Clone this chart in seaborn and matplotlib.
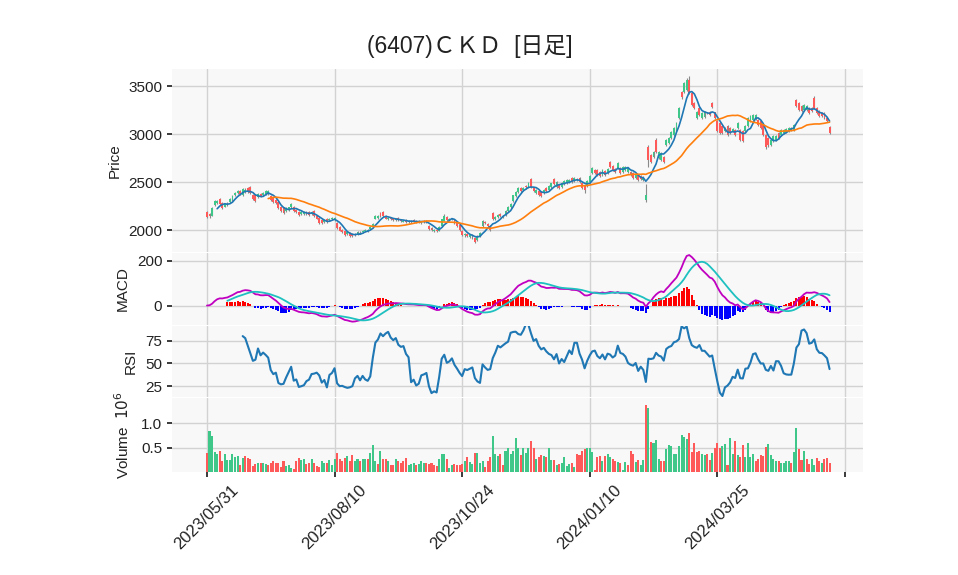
import numpy as np
import pandas as pd
import matplotlib
matplotlib.use("Agg")
import matplotlib.pyplot as plt
import seaborn as sns

# ---------------- data ----------------
title = "(6407)ＣＫＤ  [日足]"
tick_pos = [0, 50, 100, 150, 200, 250]
tick_labels = ["2023/05/31", "2023/08/10", "2023/10/24", "2024/01/10", "2024/03/25", ""]

opens = [2185, 2170, 2150, 2265, 2280, 2325, 2280, 2245, 2265, 2295,
         2315, 2360, 2385, 2405, 2365, 2400, 2435, 2445, 2365, 2360,
         2340, 2380, 2365, 2375, 2375, 2350, 2330, 2310, 2290, 2245,
         2235, 2195, 2210, 2240, 2245, 2210, 2190, 2165, 2170, 2185,
         2185, 2165, 2195, 2150, 2130, 2105, 2080, 2115, 2100, 2110,
         2105, 2075, 2035, 2000, 1985, 1955, 1970, 1960, 1945, 1960,
         1962, 1975, 1990, 1990, 2010, 2035, 2120, 2130, 2180, 2185,
         2150, 2115, 2130, 2115, 2105, 2125, 2110, 2088, 2100, 2080,
         2085, 2105, 2090, 2090, 2075, 2085, 2095, 2040, 2025, 1990,
         2000, 1990, 2040, 2095, 2140, 2100, 2110, 2100, 2070, 2050,
         1990, 1945, 1960, 1930, 1950, 1915, 1900, 1940, 2040, 2085,
         2065, 2040, 2175, 2110, 2135, 2170, 2140, 2160, 2200, 2235,
         2300, 2350, 2400, 2440, 2415, 2455, 2450, 2530, 2440, 2390,
         2410, 2400, 2390, 2435, 2420, 2450, 2530, 2450, 2470, 2450,
         2480, 2490, 2500, 2540, 2515, 2520, 2540, 2490, 2470, 2460,
         2505, 2590, 2630, 2625, 2608, 2573, 2615, 2590, 2712, 2670,
         2640, 2643, 2643, 2608, 2625, 2608, 2608, 2590, 2538, 2573,
         2566, 2520, 2312, 2870, 2780, 2764, 2938, 2747, 2730, 2764,
         2886, 2903, 2956, 2990, 3043, 3165, 3443, 3443, 3460, 3565,
         3425, 3321, 3165, 3270, 3165, 3182, 3217, 3234, 3320, 3225,
         3132, 3115, 3080, 3028, 3080, 3063, 3028, 3045, 3063, 3045,
         3028, 3028, 3080, 3132, 3150, 3160, 3150, 3132, 3097, 2993,
         2958, 2890, 2923, 2940, 3010, 2993, 3010, 3020, 3028, 3040,
         3045, 3358, 3323, 3289, 3254, 3247, 3271, 3271, 3375, 3271,
         3237, 3219, 3219, 3167, 3073]

closes = [2135, 2150, 2225, 2300, 2300, 2270, 2230, 2270, 2275, 2325,
          2350, 2385, 2405, 2375, 2430, 2420, 2395, 2385, 2325, 2305,
          2380, 2350, 2390, 2410, 2405, 2315, 2290, 2280, 2230, 2195,
          2180, 2225, 2235, 2270, 2200, 2190, 2160, 2185, 2190, 2165,
          2160, 2190, 2145, 2120, 2075, 2075, 2100, 2085, 2120, 2125,
          2130, 2025, 1995, 1975, 1950, 1975, 1940, 1935, 1960, 1975,
          1972, 1990, 2005, 2000, 2030, 2060, 2150, 2145, 2150, 2145,
          2120, 2125, 2110, 2105, 2120, 2100, 2098, 2096, 2080, 2090,
          2095, 2098, 2080, 2082, 2088, 2095, 2085, 2010, 2000, 1998,
          1985, 2030, 2110, 2150, 2100, 2115, 2120, 2070, 2040, 2000,
          1945, 1955, 1935, 1945, 1946, 1880, 1935, 1965, 2090, 2070,
          2045, 2005, 2110, 2140, 2160, 2150, 2148, 2200, 2240, 2270,
          2360, 2400, 2435, 2410, 2440, 2445, 2495, 2450, 2405, 2415,
          2360, 2355, 2420, 2405, 2460, 2485, 2475, 2500, 2440, 2495,
          2510, 2520, 2520, 2500, 2540, 2535, 2500, 2440, 2420, 2510,
          2560, 2643, 2590, 2575, 2566, 2625, 2573, 2635, 2660, 2620,
          2608, 2695, 2590, 2660, 2660, 2650, 2573, 2545, 2573, 2520,
          2530, 2555, 2364, 2730, 2712, 2817, 2817, 2817, 2800, 2712,
          2938, 2956, 3025, 3060, 3112, 3269, 3390, 3530, 3565, 3425,
          3304, 3270, 3234, 3200, 3217, 3234, 3225, 3200, 3280, 3165,
          3028, 3010, 3010, 3063, 2993, 3010, 3050, 2993, 3115, 2940,
          2923, 3080, 3167, 3184, 3200, 3195, 3097, 3063, 2993, 2870,
          2890, 2940, 2976, 2976, 2958, 3045, 3045, 3050, 3063, 3060,
          3097, 3289, 3254, 3237, 3306, 3289, 3219, 3237, 3271, 3219,
          3184, 3184, 3167, 3132, 3010]

highs = [2195, 2180, 2235, 2310, 2315, 2330, 2290, 2280, 2290, 2335,
         2360, 2395, 2415, 2420, 2440, 2435, 2445, 2460, 2375, 2365,
         2390, 2390, 2400, 2420, 2415, 2360, 2340, 2320, 2300, 2255,
         2240, 2235, 2245, 2285, 2255, 2220, 2200, 2195, 2200, 2195,
         2195, 2200, 2205, 2160, 2140, 2115, 2110, 2125, 2130, 2135,
         2140, 2085, 2045, 2010, 1995, 1985, 1980, 1970, 1970, 1985,
         1985, 2000, 2015, 2012, 2040, 2070, 2160, 2160, 2190, 2195,
         2160, 2135, 2140, 2125, 2130, 2135, 2120, 2105, 2110, 2100,
         2105, 2115, 2100, 2100, 2098, 2105, 2105, 2050, 2035, 2010,
         2010, 2040, 2120, 2170, 2150, 2125, 2130, 2110, 2080, 2060,
         2000, 1965, 1970, 1955, 1960, 1925, 1945, 1975, 2100, 2095,
         2075, 2050, 2185, 2150, 2170, 2180, 2160, 2210, 2250, 2280,
         2370, 2410, 2445, 2450, 2450, 2465, 2505, 2545, 2450, 2425,
         2420, 2410, 2430, 2445, 2470, 2495, 2545, 2510, 2480, 2505,
         2520, 2530, 2530, 2550, 2550, 2545, 2550, 2500, 2480, 2520,
         2570, 2655, 2640, 2635, 2618, 2635, 2625, 2645, 2722, 2680,
         2650, 2705, 2653, 2670, 2670, 2660, 2618, 2600, 2583, 2583,
         2576, 2565, 2476, 2890, 2790, 2827, 2955, 2827, 2810, 2774,
         2948, 2966, 3035, 3070, 3122, 3279, 3453, 3545, 3580, 3600,
         3435, 3331, 3244, 3280, 3227, 3244, 3235, 3244, 3335, 3235,
         3142, 3125, 3090, 3073, 3090, 3073, 3060, 3055, 3125, 3055,
         3038, 3090, 3177, 3194, 3210, 3205, 3160, 3142, 3107, 3003,
         2968, 2950, 2986, 2986, 3020, 3055, 3055, 3060, 3073, 3070,
         3107, 3368, 3333, 3299, 3316, 3299, 3281, 3281, 3393, 3281,
         3247, 3229, 3229, 3177, 3083]

lows = [2125, 2130, 2145, 2255, 2270, 2260, 2220, 2235, 2255, 2285,
        2305, 2350, 2375, 2365, 2355, 2390, 2385, 2375, 2315, 2295,
        2330, 2340, 2355, 2365, 2365, 2305, 2280, 2270, 2220, 2185,
        2165, 2185, 2200, 2230, 2190, 2180, 2150, 2155, 2160, 2155,
        2150, 2155, 2135, 2110, 2065, 2065, 2070, 2075, 2090, 2100,
        2095, 2015, 1985, 1965, 1940, 1945, 1930, 1925, 1935, 1950,
        1955, 1965, 1980, 1982, 2000, 2025, 2110, 2120, 2140, 2135,
        2110, 2105, 2100, 2095, 2095, 2090, 2088, 2080, 2070, 2070,
        2075, 2088, 2070, 2070, 2065, 2075, 2075, 2000, 1990, 1980,
        1975, 1985, 2035, 2090, 2090, 2090, 2100, 2060, 2030, 1990,
        1935, 1930, 1925, 1920, 1910, 1860, 1890, 1930, 2030, 2060,
        2035, 1995, 2100, 2100, 2125, 2140, 2130, 2150, 2190, 2225,
        2290, 2340, 2390, 2400, 2405, 2430, 2440, 2440, 2395, 2380,
        2350, 2345, 2380, 2395, 2410, 2440, 2465, 2440, 2430, 2440,
        2470, 2480, 2490, 2490, 2505, 2510, 2490, 2430, 2385, 2450,
        2495, 2580, 2580, 2565, 2555, 2565, 2563, 2580, 2650, 2610,
        2598, 2633, 2580, 2598, 2615, 2598, 2563, 2535, 2528, 2510,
        2520, 2510, 2290, 2660, 2700, 2754, 2807, 2737, 2720, 2702,
        2876, 2893, 2946, 2980, 3033, 3155, 3370, 3433, 3450, 3415,
        3294, 3260, 3155, 3190, 3155, 3172, 3207, 3190, 3270, 3155,
        3018, 3000, 3000, 3018, 2983, 3000, 3018, 2983, 3053, 2930,
        2913, 3018, 3070, 3122, 3140, 3150, 3087, 3053, 2983, 2840,
        2860, 2880, 2913, 2930, 2948, 2983, 3000, 3010, 3018, 3030,
        3035, 3279, 3244, 3227, 3244, 3237, 3209, 3227, 3261, 3209,
        3174, 3174, 3157, 3122, 3000]

volume_m = [0.40, 0.84, 0.74, 0.42, 0.36, 0.44, 0.22, 0.38, 0.25, 0.25,
            0.36, 0.31, 0.32, 0.15, 0.29, 0.33, 0.29, 0.27, 0.13, 0.17,
            0.19, 0.18, 0.18, 0.17, 0.14, 0.18, 0.23, 0.19, 0.18, 0.11,
            0.22, 0.13, 0.15, 0.09, 0.07, 0.23, 0.29, 0.24, 0.26, 0.17,
            0.18, 0.27, 0.19, 0.13, 0.10, 0.22, 0.19, 0.19, 0.24, 0.15,
            0.27, 0.40, 0.26, 0.23, 0.29, 0.32, 0.22, 0.34, 0.22, 0.26,
            0.23, 0.26, 0.26, 0.27, 0.40, 0.55, 0.23, 0.17, 0.44, 0.26,
            0.26, 0.22, 0.15, 0.14, 0.27, 0.22, 0.19, 0.22, 0.29, 0.14,
            0.17, 0.19, 0.15, 0.17, 0.22, 0.19, 0.18, 0.17, 0.18, 0.14,
            0.13, 0.27, 0.36, 0.36, 0.26, 0.09, 0.15, 0.17, 0.14, 0.14,
            0.17, 0.23, 0.30, 0.21, 0.17, 0.40, 0.40, 0.18, 0.22, 0.11,
            0.22, 0.30, 0.74, 0.36, 0.32, 0.36, 0.15, 0.44, 0.50, 0.38,
            0.44, 0.69, 0.50, 0.34, 0.49, 0.40, 0.49, 0.63, 0.49, 0.26,
            0.30, 0.34, 0.32, 0.30, 0.49, 0.24, 0.24, 0.14, 0.17, 0.18,
            0.30, 0.13, 0.17, 0.18, 0.11, 0.36, 0.34, 0.44, 0.47, 0.50,
            0.49, 0.42, 0.05, 0.30, 0.32, 0.23, 0.33, 0.38, 0.30, 0.27,
            0.22, 0.21, 0.19, 0.04, 0.20, 0.15, 0.44, 0.38, 0.21, 0.24,
            0.15, 0.24, 1.38, 1.32, 0.61, 0.60, 0.65, 0.27, 0.22, 0.22,
            0.47, 0.55, 0.53, 0.36, 0.36, 0.53, 0.76, 0.72, 0.68, 0.80,
            0.42, 0.59, 0.42, 0.44, 0.38, 0.34, 0.38, 0.25, 0.40, 0.50,
            0.59, 0.50, 0.53, 0.57, 0.15, 0.69, 0.38, 0.63, 0.34, 0.30,
            0.55, 0.30, 0.59, 0.30, 0.36, 0.22, 0.27, 0.34, 0.32, 0.51,
            0.57, 0.34, 0.27, 0.22, 0.23, 0.19, 0.18, 0.22, 0.22, 0.18,
            0.42, 0.90, 0.47, 0.25, 0.44, 0.26, 0.17, 0.26, 0.15, 0.29,
            0.22, 0.19, 0.26, 0.29, 0.19]

# ---------------- derived indicators ----------------
df = pd.DataFrame({"Open": opens, "High": highs, "Low": lows,
                   "Close": closes, "Volume": volume_m})
df["idx"] = np.arange(len(df))
df["MA5"] = df["Close"].rolling(5).mean()
df["MA25"] = df["Close"].rolling(25).mean()
ema12 = df["Close"].ewm(span=12, adjust=False).mean()
ema26 = df["Close"].ewm(span=26, adjust=False).mean()
df["MACD"] = ema12 - ema26
df["Signal"] = df["MACD"].rolling(9).mean()
df["Hist"] = df["MACD"] - df["Signal"]
d = df["Close"].diff()
up = d.clip(lower=0).rolling(14).mean()
dn = (-d.clip(upper=0)).rolling(14).mean()
df["RSI"] = 100 * up / (up + dn)

UP = "#3fc78a"
DOWN = "#ff5a5a"

# ---------------- style ----------------
sns.set_theme(style="whitegrid")
plt.rcParams["font.family"] = ["Liberation Sans", "Noto Sans CJK JP", "DejaVu Sans"]
plt.rcParams.update({
    "axes.facecolor": "#f8f8f8",
    "grid.color": "#d2d2d2",
    "grid.linewidth": 1.0,
    "axes.edgecolor": "#f0f0f0",
    "xtick.bottom": True,
    "ytick.left": True,
    "xtick.color": "#222222",
    "ytick.color": "#222222",
    "text.color": "#222222",
    "axes.labelcolor": "#222222",
    "xtick.major.size": 3.5,
    "ytick.major.size": 3.5,
    "axes.unicode_minus": False,
})

fig = plt.figure(figsize=(9.58, 5.75), dpi=100)
L, W = 172 / 958, 691 / 958

def add(top_px, bot_px):
    return fig.add_axes([L, 1 - bot_px / 575, W, (bot_px - top_px) / 575])

ax_p = add(69, 252)
ax_m = add(253, 325)
ax_r = add(326, 397)
ax_v = add(398, 472)
axes = [ax_p, ax_m, ax_r, ax_v]

x = df["idx"].values
# candles
cc = np.where(df["Close"] >= df["Open"], UP, DOWN)
ax_p.vlines(x, df["Low"], df["High"], color="#8a8a8a", linewidth=0.8, zorder=2)
body_lo = np.minimum(df["Open"], df["Close"])
body_h = np.maximum(np.abs(df["Close"] - df["Open"]), 4)
ax_p.bar(x, body_h, bottom=body_lo, width=0.75, color=cc, linewidth=0, zorder=3)
sns.lineplot(data=df, x="idx", y="MA5", ax=ax_p, color="#1f77b4", linewidth=1.2, zorder=4)
sns.lineplot(data=df, x="idx", y="MA25", ax=ax_p, color="#ff7f0e", linewidth=1.2, zorder=4)
ax_p.set_ylim(1771, 3678)
ax_p.set_yticks([2000, 2500, 3000, 3500])
ax_p.set_ylabel("Price")

# MACD
hc = np.where(df["Hist"] >= 0, "#ff0000", "#0000ff")
ax_m.bar(x, df["Hist"].fillna(0), width=0.8, color=hc, linewidth=0, zorder=2)
sns.lineplot(data=df, x="idx", y="MACD", ax=ax_m, color="#c000c0", linewidth=1.3, zorder=3)
sns.lineplot(data=df, x="idx", y="Signal", ax=ax_m, color="#1fc0c0", linewidth=1.3, zorder=3)
ax_m.set_ylim(-87, 235)
ax_m.set_yticks([0, 200])
ax_m.set_ylabel("MACD")

# RSI
sns.lineplot(data=df, x="idx", y="RSI", ax=ax_r, color="#1f77b4", linewidth=1.5)
ax_r.set_ylim(13.5, 90.8)
ax_r.set_yticks([25, 50, 75])
ax_r.set_ylabel("RSI")

# Volume (coloured by change of close)
vc = np.where(df["Close"].diff() >= 0, UP, DOWN)
ax_v.bar(x, df["Volume"], width=0.8, color=vc, linewidth=0, zorder=2)
ax_v.set_ylim(0, 1.52)
ax_v.set_yticks([0.5, 1.0])
ax_v.set_ylabel("Volume  $10^{6}$")

for ax in axes:
    ax.set_xlim(-13.7, 257.1)
    ax.set_xticks(tick_pos)
    ax.grid(True, axis="both")
    ax.set_axisbelow(True)
    for s in ax.spines.values():
        s.set_visible(False)
    ax.tick_params(axis="y", labelsize=11, length=3.5, color="#222222")
    ax.yaxis.label.set_size(11)
for ax in axes[:-1]:
    ax.set_xlabel("")
    ax.tick_params(axis="x", bottom=False, labelbottom=False)
ax_v.set_xlabel("")
ax_v.set_xticklabels(tick_labels, rotation=45, ha="center", fontsize=12)
ax_v.tick_params(axis="x", length=3.5, color="#222222", pad=4)

for ax, lx in zip(axes, [122, 130, 138, 132]):
    ax.yaxis.set_label_coords((lx - 172) / 691, 0.5)

fig.suptitle(title, x=0.49, y=0.94, fontsize=16.5)
fig.savefig("out.png", dpi=100)
